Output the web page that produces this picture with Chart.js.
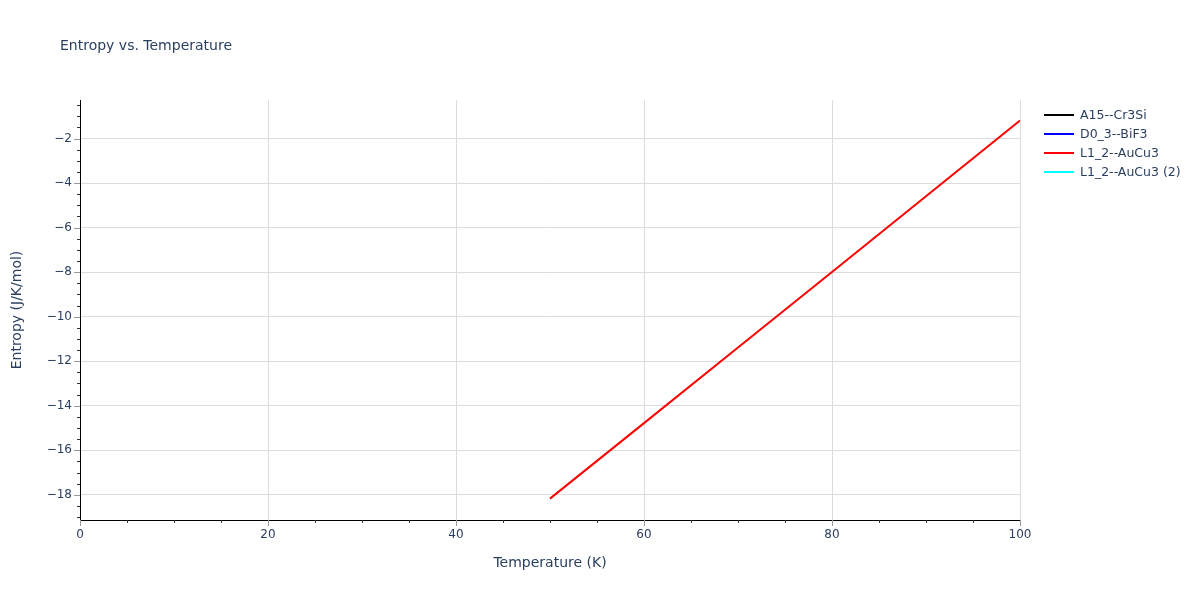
<!DOCTYPE html>
<html>
<head>
<meta charset="utf-8">
<script src="https://cdn.jsdelivr.net/npm/chart.js@4.4.0/dist/chart.umd.min.js"></script>
<style>
  html, body { margin: 0; padding: 0; background: #fff; }
  #wrap { position: relative; width: 1200px; height: 600px; font-family: "DejaVu Sans", sans-serif; color: #2a3f5f; }
  #title { position: absolute; left: 60px; top: 37px; font-size: 14px; white-space: nowrap; }
  #legend { position: absolute; left: 1044px; top: 105px; font-size: 12.5px; }
  .item { height: 19px; display: flex; align-items: center; }
  .swatch { width: 30px; height: 2px; margin-right: 6px; }
  canvas { position: absolute; left: 0; top: 0; }
</style>
</head>
<body>
<div id="wrap">
  <canvas id="chart" width="1200" height="600"></canvas>
  <div id="title">Entropy vs. Temperature</div>
  <div id="legend"></div>
</div>
<script>
// series names and colours, in legend order
const seriesNames = ['A15--Cr3Si', 'D0_3--BiF3', 'L1_2--AuCu3', 'L1_2--AuCu3 (2)'];
const seriesColors = ['#000000', '#0000ff', '#ff0000', '#00ffff'];

// only the L1_2--AuCu3 curve is visible in the picture
const temperature = [50, 60, 70, 80, 90, 100];
const entropyAuCu3 = [-18.17, -14.78, -11.38, -7.99, -4.59, -1.19];

const xRange = [0, 100];
const yRange = [-19.13, -0.27];
const xMajor = [0, 20, 40, 60, 80, 100];
const yMajor = [-18, -16, -14, -12, -10, -8, -6, -4, -2];

const seriesData = [[], [], temperature.map((t, i) => ({ x: t, y: entropyAuCu3[i] })), []];

// minor ticks every 5 K and every 0.5 J/K/mol
const xTicks = [];
for (let v = 0; v <= 100; v += 5) xTicks.push(v);
const yTicks = [];
for (let v = -19; v <= -0.5; v += 0.5) yTicks.push(v);

const isMajorX = v => xMajor.includes(v);
const isMajorY = v => yMajor.includes(v);
const fmt = v => (v < 0 ? '\u2212' + Math.abs(v) : String(v));
const FONT = 'DejaVu Sans';

// legend
const legend = document.getElementById('legend');
seriesNames.forEach((n, i) => {
  const d = document.createElement('div');
  d.className = 'item';
  d.innerHTML = `<span class="swatch" style="background:${seriesColors[i]}"></span><span>${n}</span>`;
  legend.appendChild(d);
});

// draw outside ticks: long grey majors, short dark minors
const tickPlugin = {
  id: 'plotlyTicks',
  afterDraw(chart) {
    const ctx = chart.ctx;
    const xs = chart.scales.x, ys = chart.scales.y;
    const area = chart.chartArea;
    ctx.save();
    ctx.lineWidth = 1;
    xs.ticks.forEach(t => {
      const px = Math.round(xs.getPixelForValue(t.value)) + 0.5;
      const major = isMajorX(t.value);
      ctx.strokeStyle = major ? '#999' : '#333';
      ctx.beginPath();
      ctx.moveTo(px, area.bottom);
      ctx.lineTo(px, area.bottom + (major ? 6 : 3));
      ctx.stroke();
    });
    ys.ticks.forEach(t => {
      const py = Math.round(ys.getPixelForValue(t.value)) + 0.5;
      const major = isMajorY(t.value);
      ctx.strokeStyle = major ? '#999' : '#333';
      ctx.beginPath();
      ctx.moveTo(area.left, py);
      ctx.lineTo(area.left - (major ? 6 : 3), py);
      ctx.stroke();
    });
    ctx.restore();
  }
};

new Chart(document.getElementById('chart'), {
  type: 'line',
  data: {
    datasets: seriesNames.map((n, i) => ({
      label: n,
      data: seriesData[i],
      borderColor: seriesColors[i],
      backgroundColor: seriesColors[i],
      borderWidth: 2,
      pointRadius: 0,
      tension: 0,
      fill: false
    }))
  },
  options: {
    responsive: false,
    animation: false,
    layout: { padding: { top: 100, right: 180, left: 0, bottom: 0 } },
    plugins: { legend: { display: false }, tooltip: { enabled: false } },
    scales: {
      x: {
        type: 'linear',
        min: xRange[0], max: xRange[1],
        afterBuildTicks: s => { s.ticks = xTicks.map(v => ({ value: v })); },
        afterFit: s => { s.height = 80; },
        ticks: {
          autoSkip: false, maxRotation: 0, padding: 8,
          color: '#2a3f5f', font: { family: FONT, size: 12 },
          callback: v => (isMajorX(v) ? fmt(v) : '')
        },
        grid: {
          drawTicks: false,
          color: c => (isMajorX(c.tick.value) && c.tick.value !== 0 ? '#dcdcdc' : 'rgba(0,0,0,0)')
        },
        border: { display: true, color: '#000', width: 1 },
        title: {
          display: true, text: 'Temperature (K)', color: '#2a3f5f',
          font: { family: FONT, size: 14 }, padding: { top: 0, bottom: 28 }
        }
      },
      y: {
        type: 'linear',
        min: yRange[0], max: yRange[1],
        afterBuildTicks: s => { s.ticks = yTicks.map(v => ({ value: v })); },
        afterFit: s => { s.width = 80; },
        ticks: {
          autoSkip: false, padding: 8,
          color: '#2a3f5f', font: { family: FONT, size: 12 },
          callback: v => (isMajorY(v) ? fmt(v) : '')
        },
        grid: {
          drawTicks: false,
          color: c => (isMajorY(c.tick.value) ? '#dcdcdc' : 'rgba(0,0,0,0)')
        },
        border: { display: true, color: '#000', width: 1 },
        title: {
          display: true, text: 'Entropy (J/K/mol)', color: '#2a3f5f',
          font: { family: FONT, size: 14 }, padding: { top: 9, bottom: 0 }
        }
      }
    }
  },
  plugins: [tickPlugin]
});
</script>
</body>
</html>
